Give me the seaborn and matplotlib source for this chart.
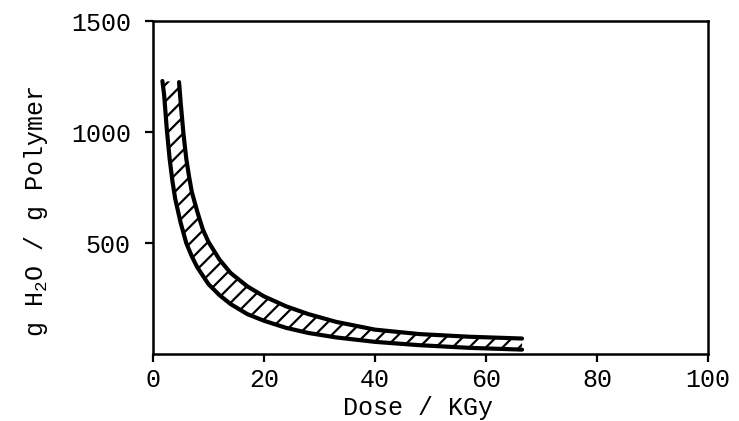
import numpy as np
import pandas as pd
import matplotlib
matplotlib.use("Agg")
import matplotlib.pyplot as plt
import seaborn as sns

# Lower (left) boundary of the band
lower_dose = [1.7, 2.0, 2.5, 3.0, 3.5, 4.0, 5.0, 6.0, 7.0, 8.0, 10, 12, 14, 17, 20, 24, 28, 33, 40, 48, 57, 66.5]
lower_water = [1230, 1170, 1010, 880, 780, 700, 590, 500, 440, 390, 315, 265, 225, 180, 150, 118, 95, 75, 55, 40, 28, 20]
# Upper (right) boundary of the band
upper_dose = [4.7, 5.0, 5.5, 6.0, 6.5, 7.0, 8.0, 9.0, 10, 12, 14, 17, 20, 24, 28, 33, 40, 48, 57, 66.5]
upper_water = [1225, 1130, 990, 880, 800, 730, 640, 560, 505, 425, 365, 305, 260, 215, 180, 145, 110, 90, 78, 70]

x_ticks = [0, 20, 40, 60, 80, 100]
y_ticks = [500, 1000, 1500]

sns.set_theme(style="ticks")
plt.rcParams["font.family"] = ["Liberation Mono", "DejaVu Sans Mono"]
plt.rcParams["mathtext.fontset"] = "custom"
plt.rcParams["mathtext.rm"] = "Liberation Mono"
plt.rcParams["mathtext.it"] = "Liberation Mono"
plt.rcParams["mathtext.bf"] = "Liberation Mono"
plt.rcParams["mathtext.default"] = "rm"
plt.rcParams["hatch.linewidth"] = 1.6

fig = plt.figure(figsize=(7.39, 4.21), dpi=100)
ax = fig.add_axes([0.207, 0.159, 0.751, 0.791])

low = pd.DataFrame({"dose": lower_dose, "water": lower_water})
up = pd.DataFrame({"dose": upper_dose, "water": upper_water})

poly_x = np.concatenate([low["dose"].values, up["dose"].values[::-1]])
poly_y = np.concatenate([low["water"].values, up["water"].values[::-1]])
ax.fill(poly_x, poly_y, facecolor="none", edgecolor="black", hatch="//", linewidth=0)

sns.lineplot(data=low, x="dose", y="water", sort=False, color="black", lw=3, ax=ax)
sns.lineplot(data=up, x="dose", y="water", sort=False, color="black", lw=3, ax=ax)

ax.set_xlim(0, 100)
ax.set_ylim(0, 1500)
ax.set_xticks(x_ticks)
ax.set_xticklabels([str(t) for t in x_ticks])
ax.set_yticks(y_ticks)
ax.set_yticklabels([str(t) for t in y_ticks])
ax.tick_params(axis="both", labelsize=18, length=6, width=1.6, color="black", labelcolor="black")
ax.tick_params(axis="y", pad=10)
ax.tick_params(axis="x", pad=4)
for s in ax.spines.values():
    s.set_linewidth(1.8)
    s.set_color("black")
    s.set_visible(True)

ax.set_xlabel("Dose / KGy", fontsize=18, color="black")
ax.set_ylabel("g H$_2$O / g Polymer", fontsize=18, color="black")
ax.xaxis.set_label_coords(0.477, -0.125)
ax.yaxis.set_label_coords(-0.186, 0.43)

fig.savefig("out.png", dpi=100, facecolor="white")
